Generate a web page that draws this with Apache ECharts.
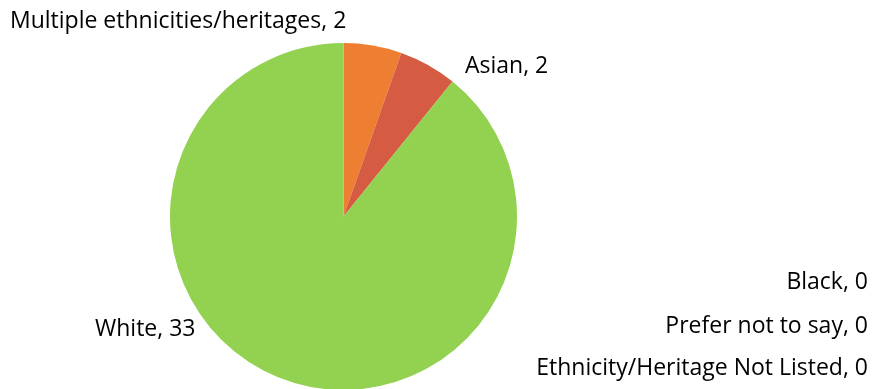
<!DOCTYPE html>
<html>
<head>
<meta charset="utf-8">
<script src="https://cdn.jsdelivr.net/npm/echarts@6/dist/echarts.min.js"></script>
<style>
  html, body { margin: 0; padding: 0; background: #ffffff; }
  #chart { width: 874px; height: 389px; }
</style>
</head>
<body>
<div id="chart"></div>
<script>
// Respondent ethnicity / heritage counts
const categories = [
  'Multiple ethnicities/heritages',
  'Asian',
  'White',
  'Black',
  'Prefer not to say',
  'Ethnicity/Heritage Not Listed'
];
const counts = [2, 2, 33, 0, 0, 0];
const sliceColors = ['#EE7E32', '#D55B42', '#93D150', '#4472C4', '#A5A5A5', '#FFC000'];

// Label anchor points (left/right aligned, vertically centred)
const labelAnchors = [
  { x: 10,  y: 21,  align: 'left' },
  { x: 465, y: 66,  align: 'left' },
  { x: 95,  y: 329, align: 'left' },
  { x: 868, y: 282, align: 'right' },
  { x: 868, y: 326, align: 'right' },
  { x: 868, y: 368, align: 'right' }
];

const chart = echarts.init(document.getElementById('chart'), null, { renderer: 'canvas' });

chart.setOption({
  animation: false,
  backgroundColor: '#ffffff',
  textStyle: { fontFamily: '"Open Sans", sans-serif' },
  series: [{
    type: 'pie',
    center: [343.5, 216.5],
    radius: 173.5,
    startAngle: 90,
    clockwise: true,
    avoidLabelOverlap: false,
    silent: true,
    itemStyle: { borderWidth: 0 },
    label: {
      show: true,
      position: 'outside',
      formatter: '{b}, {c}',
      color: '#000000',
      fontFamily: '"Open Sans", sans-serif',
      fontSize: 23
    },
    labelLine: { show: false },
    labelLayout: function (params) {
      const a = labelAnchors[params.dataIndex];
      return { x: a.x, y: a.y, align: a.align, verticalAlign: 'middle', hideOverlap: false };
    },
    data: categories.map((name, i) => ({
      name: name,
      value: counts[i],
      itemStyle: { color: sliceColors[i] }
    }))
  }]
});
</script>
</body>
</html>
